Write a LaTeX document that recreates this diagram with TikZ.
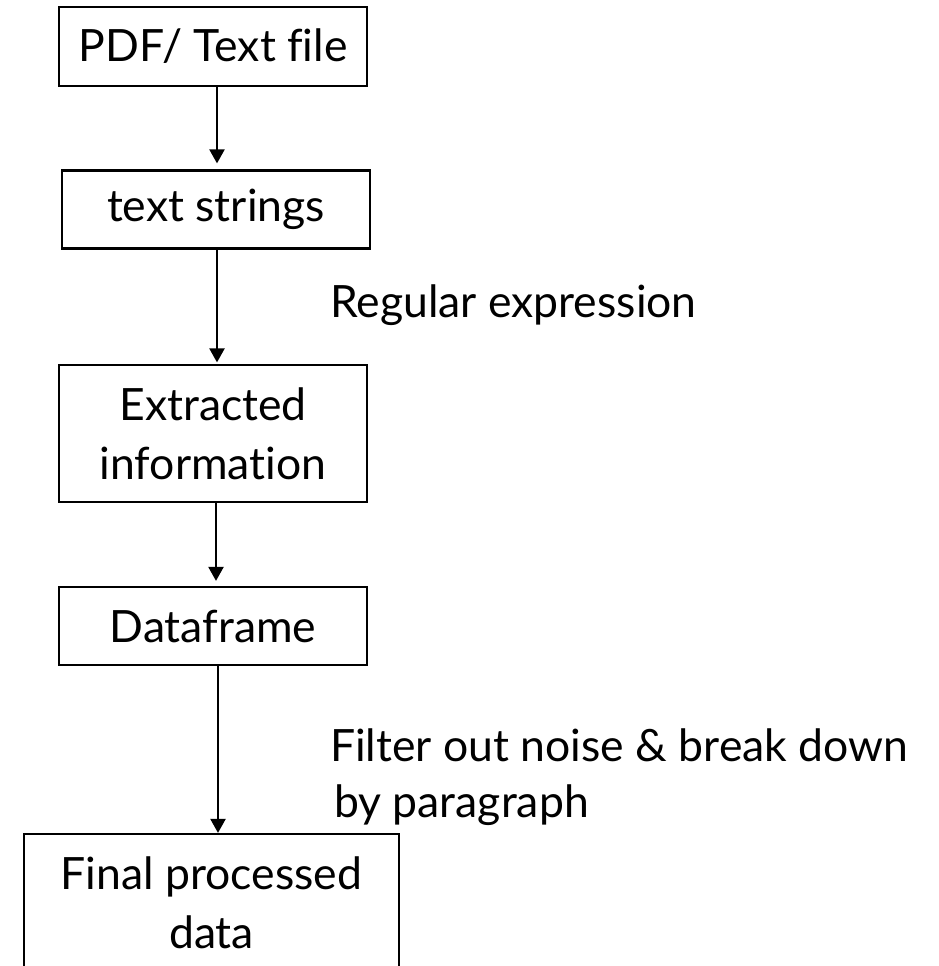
\documentclass[tikz,border=0pt]{standalone}
\usepackage{fontspec}
\setmainfont{Lato}[Ligatures=NoCommon]
\usetikzlibrary{arrows.meta}
\begin{document}
\begin{tikzpicture}[x=1pt,y=-1pt,
  font=\fontsize{44.5}{59}\selectfont,
  stepbox/.style={draw=black,line width=2.2pt,inner sep=0pt,align=center,
    minimum width=308pt,minimum height=78pt},
  arr/.style={line width=2.2pt,-{Triangle[length=14pt,width=15pt]}},
  lbl/.style={anchor=west,inner sep=0pt,align=left}]
\useasboundingbox (0,0) rectangle (938,966);
\clip (0,0) rectangle (938,966);
% process steps
\node[stepbox,minimum height=79pt] (b1) at (213,46.5) {PDF/ Text file};
\node[stepbox] (b2) at (216,209.5) {text strings};
\node[stepbox,minimum height=137pt] (b3) at (213,433.5) {Extracted\\information};
\node[stepbox] (b4) at (213,626) {Dataframe};
\node[stepbox,minimum width=375pt,minimum height=138pt] (b5) at (211.5,903) {Final processed\\data};
% connectors
\draw[arr,shorten >=6pt] (b1.south -| 217,0) -- (b2.north -| 217,0);
\draw[arr,shorten >=1.5pt] (b2.south -| 217,0) -- (b3.north -| 217,0);
\draw[arr,shorten >=5pt] (b3.south -| 216,0) -- (b4.north -| 216,0);
\draw[arr] (b4.south -| 218,0) -- (b5.north -| 218,0);
% step descriptions
\node[lbl] (r1) at (330,305) {Regular expression};
\node[lbl] (r2) at (330,745) {Filter out noise \& break down};
\node[lbl] (r3) at (334,805) {by paragraph};
\end{tikzpicture}
\end{document}
